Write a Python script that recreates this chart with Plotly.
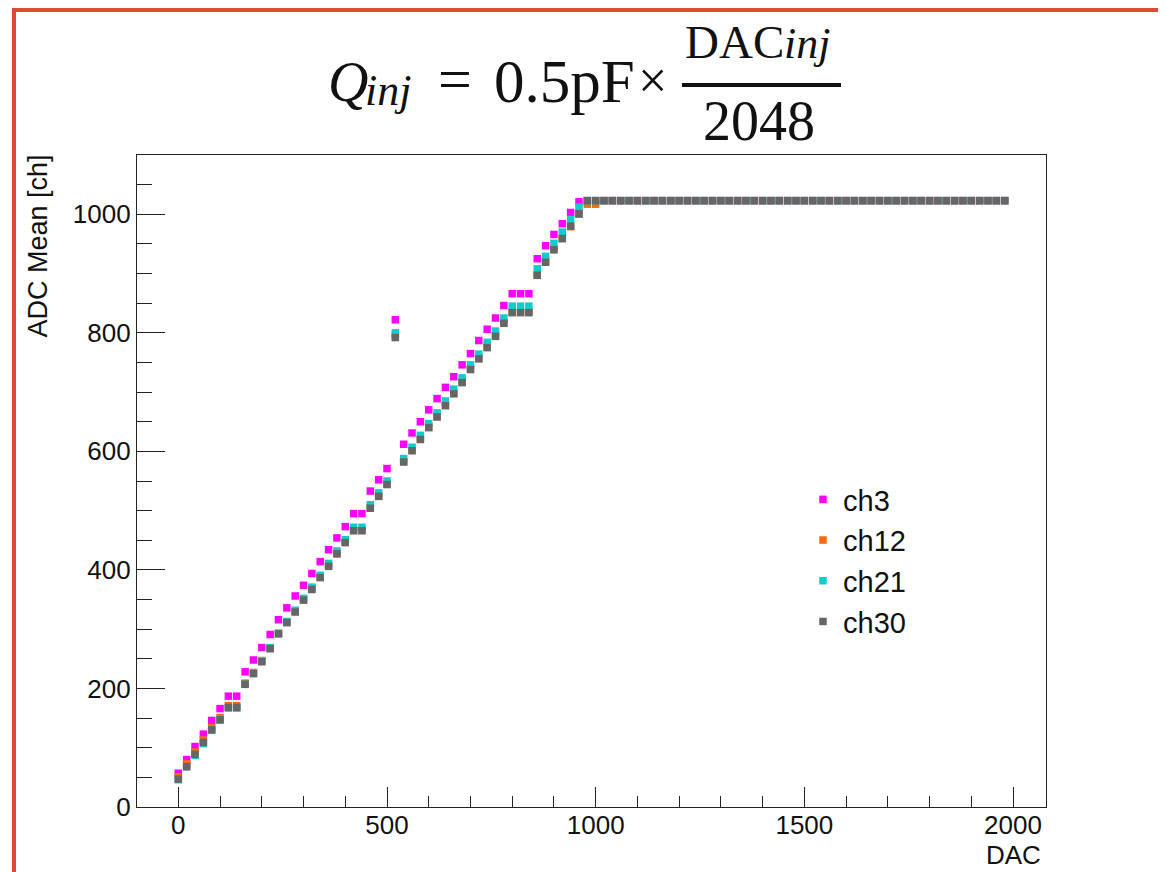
import plotly.graph_objects as go

# ---------------- data ----------------
dac = list(range(0, 2000, 20))

ch3_low = [57, 80, 102, 123, 146, 166, 187, 187, 228, 248,
           269, 291, 316, 336, 356, 374, 394, 414, 434, 454,
           473, 495, 495, 533, 552, 571, 822, 612, 631, 650,
           670, 689, 708, 726, 746, 765, 787, 806, 825, 846,
           866, 866, 866, 925, 947, 966, 984, 1003, 1021]
ch12_low = [51, 73, 93, 113, 134, 151, 171, 171, 209, 227,
            247, 268, 293, 312, 330, 350, 368, 388, 407, 428,
            447, 467, 467, 505, 525, 545, 794, 583, 602, 621,
            641, 659, 678, 698, 717, 739, 757, 776, 795, 817,
            835, 835, 835, 898, 920, 941, 959, 979, 1000, 1017, 1017]
ch21_low = [46, 68, 87, 107, 130, 147, 167, 167, 207, 226,
            247, 269, 293, 313, 332, 352, 371, 391, 411, 432,
            451, 472, 472, 510, 530, 550, 800, 588, 607, 627,
            647, 665, 685, 705, 724, 746, 764, 784, 803, 825,
            845, 845, 845, 908, 929, 951, 970, 991, 1012]
ch30_low = [47, 68, 89, 109, 130, 147, 168, 168, 207, 225,
            245, 267, 292, 311, 329, 349, 367, 387, 406, 427,
            446, 466, 466, 504, 524, 544, 792, 582, 601, 620,
            640, 658, 677, 697, 716, 738, 756, 775, 794, 816,
            834, 834, 834, 897, 919, 940, 959, 980, 1001]

SAT = 1023
ch3 = ch3_low + [SAT] * (len(dac) - len(ch3_low))
ch12 = ch12_low + [SAT] * (len(dac) - len(ch12_low))
ch21 = ch21_low + [SAT] * (len(dac) - len(ch21_low))
ch30 = ch30_low + [SAT] * (len(dac) - len(ch30_low))

series_names = ["ch3", "ch12", "ch21", "ch30"]
series_vals = [ch3, ch12, ch21, ch30]
series_colors = ["#ff00ff", "#ff6a10", "#12cccc", "#666666"]

x_ticks = [0, 500, 1000, 1500, 2000]
y_ticks = [0, 200, 400, 600, 800, 1000]

# ---------------- layout geometry ----------------
OFF = 8                      # page body margin
W, H = 1158, 864
ML, MR, MT, MB = 129, 120, 147, 65
PW, PH = W - ML - MR, H - MT - MB


def px(sx):
    """screen x -> paper x"""
    return (sx - OFF - ML) / PW


def py(sy):
    """screen y -> paper y"""
    return (MT + PH - (sy - OFF)) / PH


SANS = "Liberation Sans, Arial, Helvetica, sans-serif"
SERIF = "Liberation Serif, Times New Roman, serif"
INK = "#111111"

fig = go.Figure()
for name, vals, col in zip(series_names, series_vals, series_colors):
    fig.add_trace(go.Scatter(
        x=dac, y=vals, mode="markers", name=name,
        marker=dict(symbol="square", size=7.5, color=col, line=dict(width=0)),
    ))

axis_common = dict(
    showgrid=False, zeroline=False, showline=True, linecolor="#222222",
    linewidth=1.3, mirror=True, ticks="inside", tickcolor="#222222",
    tickwidth=1.3, tickfont=dict(family=SANS, size=26, color=INK),
)

fig.update_xaxes(range=[-99, 2079], tickvals=x_ticks, ticklen=20,
                 ticklabelstandoff=-5,
                 minor=dict(dtick=100, tick0=0, ticks="inside", ticklen=11,
                            tickcolor="#222222", tickwidth=1.3),
                 **axis_common)
fig.update_yaxes(range=[0, 1100], tickvals=y_ticks, ticklen=28,
                 minor=dict(dtick=50, tick0=0, ticks="inside", ticklen=15,
                            tickcolor="#222222", tickwidth=1.3),
                 **axis_common)


def serif(txt, x, y, size, xanchor="left", italic=False):
    if italic:
        txt = f"<i>{txt}</i>"
    return dict(x=px(x), y=py(y), text=txt, xanchor=xanchor, yanchor="middle",
                font=dict(family=SERIF, size=size, color=INK))


annotations = [
    # axis titles
    dict(x=px(1043), y=py(855), text="DAC", xanchor="right", yanchor="middle",
         font=dict(family=SANS, size=26, color=INK)),
    dict(x=px(37), y=py(153), text="ADC Mean [ch]", textangle=-90,
         xanchor="center", yanchor="top",
         font=dict(family=SANS, size=27, color=INK)),
    # formula title  Q_inj = 0.5pF x DAC_inj / 2048
    serif("Q", 326, 82, 56, italic=True),
    serif("inj", 363, 90, 44, italic=True),
    serif("=", 455, 79, 60, xanchor="center"),
    serif("0.5pF", 564, 81, 61, xanchor="center"),
    serif("×", 652, 80, 52, xanchor="center"),
    serif("DAC", 683, 42, 47),
    serif("inj", 782, 44, 44, italic=True),
    serif("2048", 759, 121, 56, xanchor="center"),
]
for a in annotations:
    a.update(xref="paper", yref="paper", showarrow=False)

shapes = [
    # fraction bar
    dict(type="line", xref="paper", yref="paper", x0=px(682), x1=px(841),
         y0=py(85), y1=py(85), line=dict(color=INK, width=4)),
    # red frame (left, top, right)
    dict(type="path", xref="paper", yref="paper",
         path=(f"M {px(14)},{py(900)} L {px(14)},{py(10)} "
               f"L {px(1163)},{py(10)} L {px(1163)},{py(900)}"),
         line=dict(color="#e04a34", width=4)),
]

fig.update_layout(
    width=W, height=H,
    margin=dict(l=ML, r=MR, t=MT, b=MB, pad=0),
    paper_bgcolor="white", plot_bgcolor="white",
    annotations=annotations, shapes=shapes,
    showlegend=True,
    legend=dict(x=px(803), y=py(474), xanchor="left", yanchor="top",
                font=dict(family=SANS, size=29, color=INK),
                bgcolor="rgba(0,0,0,0)", borderwidth=0, itemsizing="trace",
                tracegroupgap=0),
)

fig.write_html("out.html")
